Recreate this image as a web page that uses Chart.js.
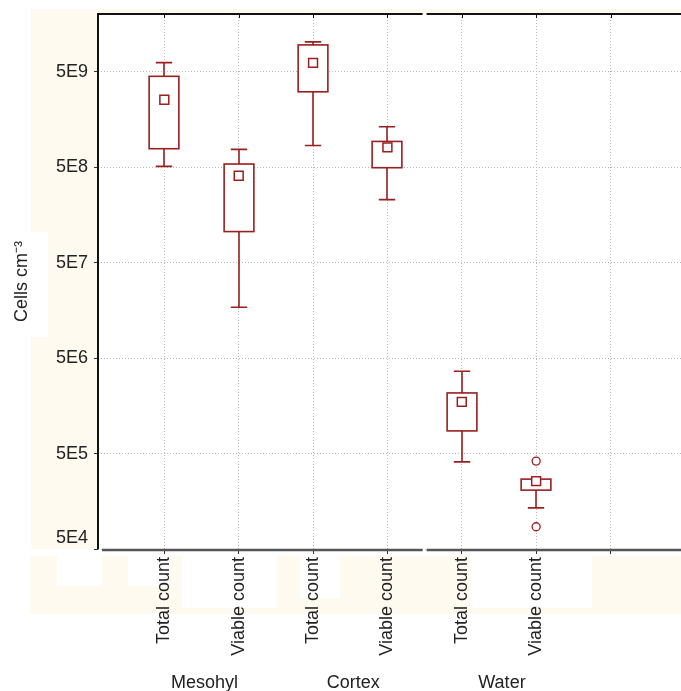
<!DOCTYPE html>
<html><head><meta charset="utf-8">
<script src="https://cdn.jsdelivr.net/npm/chart.js@4.4.1/dist/chart.umd.min.js"></script>
<style>html,body{margin:0;padding:0;background:#fff;}#wrap{width:681px;height:691px;position:relative;}</style>
</head><body><div id="wrap"><canvas id="c" width="681" height="691"></canvas></div>
<script>
// ---- data ----
const categories = ['Total count','Viable count','Total count','Viable count','Total count','Viable count'];
const groups = ['Mesohyl','Cortex','Water'];
const whiskerHigh = [6.25e9, 7.7e8, 1.03e10, 1.33e9, 3.64e6, 2.70e5];
const boxHigh     = [4.49e9, 5.41e8, 9.58e9, 9.33e8, 2.16e6, 2.70e5];
const means       = [2.55e9, 4.08e8, 6.21e9, 8.08e8, 1.74e6, 2.57e5];
const boxLow      = [7.83e8, 1.06e8, 3.09e9, 4.95e8, 8.64e5, 2.07e5];
const whiskerLow  = [5.11e8, 1.71e7, 8.47e8, 2.29e8, 4.09e5, 1.35e5];
const outliers    = [[], [], [], [], [], [4.17e5, 8.55e4]];
const yTickLabels = ['5E4','5E5','5E6','5E7','5E8','5E9'];
const yTitle = 'Cells cm\u207B\u00B3';

// ---- styling ----
const RED = '#9a1f1f';
const FONT = "'Liberation Sans', Arial, sans-serif";
const CREAM = '#fffaf0';

const meanPoints = means.map((v, i) => ({x: i, y: v}));
const outlierPoints = [];
outliers.forEach((arr, i) => arr.forEach(v => outlierPoints.push({x: i, y: v})));

const cream = {
  id: 'cream',
  beforeDraw(chart) {
    const ctx = chart.ctx;
    ctx.save();
    ctx.fillStyle = CREAM;
    ctx.fillRect(31, 9, 650, 5);
    ctx.fillRect(31, 9, 67, 223);
    ctx.fillRect(48, 232, 50, 105);
    ctx.fillRect(31, 337, 67, 212);
    ctx.fillRect(30, 556, 651, 58);
    ctx.fillStyle = '#fff';
    ctx.fillRect(57, 556, 45, 30);
    ctx.fillRect(128, 556, 42, 30);
    ctx.fillRect(182, 556, 95, 52);
    ctx.fillRect(300, 556, 40, 42);
    ctx.fillRect(470, 556, 122, 52);
    ctx.restore();
  }
};

const boxes = {
  id: 'boxes',
  beforeDatasetsDraw(chart) {
    const {ctx, scales: {x, y}} = chart;
    const step = x.getPixelForValue(1) - x.getPixelForValue(0);
    const bw = step * 0.40, cw = step * 0.22;
    ctx.save();
    ctx.strokeStyle = RED;
    ctx.lineWidth = 1.6;
    categories.forEach((c, i) => {
      const cx = Math.round(x.getPixelForValue(i));
      const yWH = y.getPixelForValue(whiskerHigh[i]);
      const yBH = y.getPixelForValue(boxHigh[i]);
      const yBL = y.getPixelForValue(boxLow[i]);
      const yWL = y.getPixelForValue(whiskerLow[i]);
      ctx.fillStyle = '#fff';
      ctx.fillRect(cx - bw / 2, yBH, bw, yBL - yBH);
      ctx.beginPath();
      if (Math.abs(yWH - yBH) > 0.5) {
        ctx.moveTo(cx, yWH); ctx.lineTo(cx, yBH);
        ctx.moveTo(cx - cw / 2, yWH); ctx.lineTo(cx + cw / 2, yWH);
      }
      ctx.moveTo(cx, yBL); ctx.lineTo(cx, yWL);
      ctx.moveTo(cx - cw / 2, yWL); ctx.lineTo(cx + cw / 2, yWL);
      ctx.stroke();
      ctx.strokeRect(cx - bw / 2, yBH, bw, yBL - yBH);
    });
    ctx.restore();
  },
  afterDraw(chart) {
    const {ctx, chartArea: a, scales: {x}} = chart;
    const gap = x.getPixelForValue(3.5);
    ctx.save();
    // top frame
    ctx.strokeStyle = '#111';
    ctx.lineWidth = 2;
    ctx.beginPath();
    ctx.moveTo(a.left - 1, a.top); ctx.lineTo(gap - 2, a.top);
    ctx.moveTo(gap + 2, a.top); ctx.lineTo(a.right, a.top);
    ctx.stroke();
    // top ticks
    ctx.lineWidth = 1;
    ctx.beginPath();
    for (let i = 0; i <= 6; i++) {
      const px = Math.round(x.getPixelForValue(i)) + 0.5;
      ctx.moveTo(px, a.top); ctx.lineTo(px, a.top + 4);
    }
    ctx.stroke();
    // left axis
    ctx.lineWidth = 2;
    ctx.beginPath();
    ctx.moveTo(a.left, a.top - 1); ctx.lineTo(a.left, a.bottom);
    ctx.stroke();
    // bottom axis
    ctx.strokeStyle = '#555';
    ctx.lineWidth = 2.5;
    ctx.beginPath();
    ctx.moveTo(a.left + 4, a.bottom + 1); ctx.lineTo(gap - 2, a.bottom + 1);
    ctx.moveTo(gap + 2, a.bottom + 1); ctx.lineTo(a.right, a.bottom + 1);
    ctx.stroke();
    // group labels
    ctx.fillStyle = '#222';
    ctx.font = '18px ' + FONT;
    ctx.textAlign = 'center';
    ctx.textBaseline = 'middle';
    groups.forEach((g, k) => {
      const gx = (x.getPixelForValue(2 * k) + x.getPixelForValue(2 * k + 1)) / 2;
      ctx.fillText(g, gx + 3, 683);
    });
    ctx.restore();
  }
};

new Chart(document.getElementById('c'), {
  type: 'scatter',
  data: {
    datasets: [
      {
        label: 'Mean',
        data: meanPoints,
        pointStyle: 'rect',
        pointRadius: 6.3,
        pointHoverRadius: 6.3,
        borderColor: RED,
        backgroundColor: '#fff',
        pointBorderWidth: 1.5
      },
      {
        label: 'Outliers',
        data: outlierPoints,
        pointStyle: 'circle',
        pointRadius: 4,
        pointHoverRadius: 4,
        borderColor: RED,
        backgroundColor: '#fff',
        pointBorderWidth: 1.3
      }
    ]
  },
  options: {
    responsive: false,
    animation: false,
    events: [],
    layout: {autoPadding: false, padding: {top: 14, right: 0, left: 0, bottom: 0}},
    plugins: {legend: {display: false}, tooltip: {enabled: false}},
    scales: {
      x: {
        type: 'linear',
        min: -0.892,
        max: 6.948,
        afterFit(s) { s.height = 142; s.paddingLeft = 0; s.paddingRight = 0; },
        afterBuildTicks(s) { s.ticks = [0,1,2,3,4,5,6].map(v => ({value: v})); },
        border: {display: false, dash: [1, 2]},
        grid: {color: '#b8b8b8', lineWidth: 1, drawTicks: true, tickLength: 5, tickColor: '#333', tickBorderDash: []},
        ticks: {
          autoSkip: false,
          maxRotation: 90,
          minRotation: 90,
          padding: 3,
          color: '#222',
          font: {family: FONT, size: 18},
          callback: (v) => categories[v] !== undefined ? categories[v] : ''
        }
      },
      y: {
        type: 'logarithmic',
        min: 5e4,
        max: 2.02e10,
        afterFit(s) { s.width = 98; s.paddingTop = 0; s.paddingBottom = 0; },
        afterBuildTicks(s) { s.ticks = yTickLabels.map(t => ({value: Number(t)})); },
        border: {display: false, dash: [1, 2]},
        grid: {color: '#b8b8b8', lineWidth: 1, drawTicks: true, tickLength: 4, tickColor: '#333', tickBorderDash: []},
        ticks: {
          padding: 6,
          color: '#222',
          font: {family: FONT, size: 18},
          callback: (v) => {
            const i = yTickLabels.findIndex(t => Number(t) === v);
            if (i < 0) return '';
            return i === 0 ? [yTickLabels[i], ''] : yTickLabels[i];
          }
        },
        title: {
          display: true,
          text: yTitle,
          color: '#222',
          font: {family: FONT, size: 18},
          padding: {top: 11, bottom: 0}
        }
      }
    }
  },
  plugins: [cream, boxes]
});
</script>
</body></html>
